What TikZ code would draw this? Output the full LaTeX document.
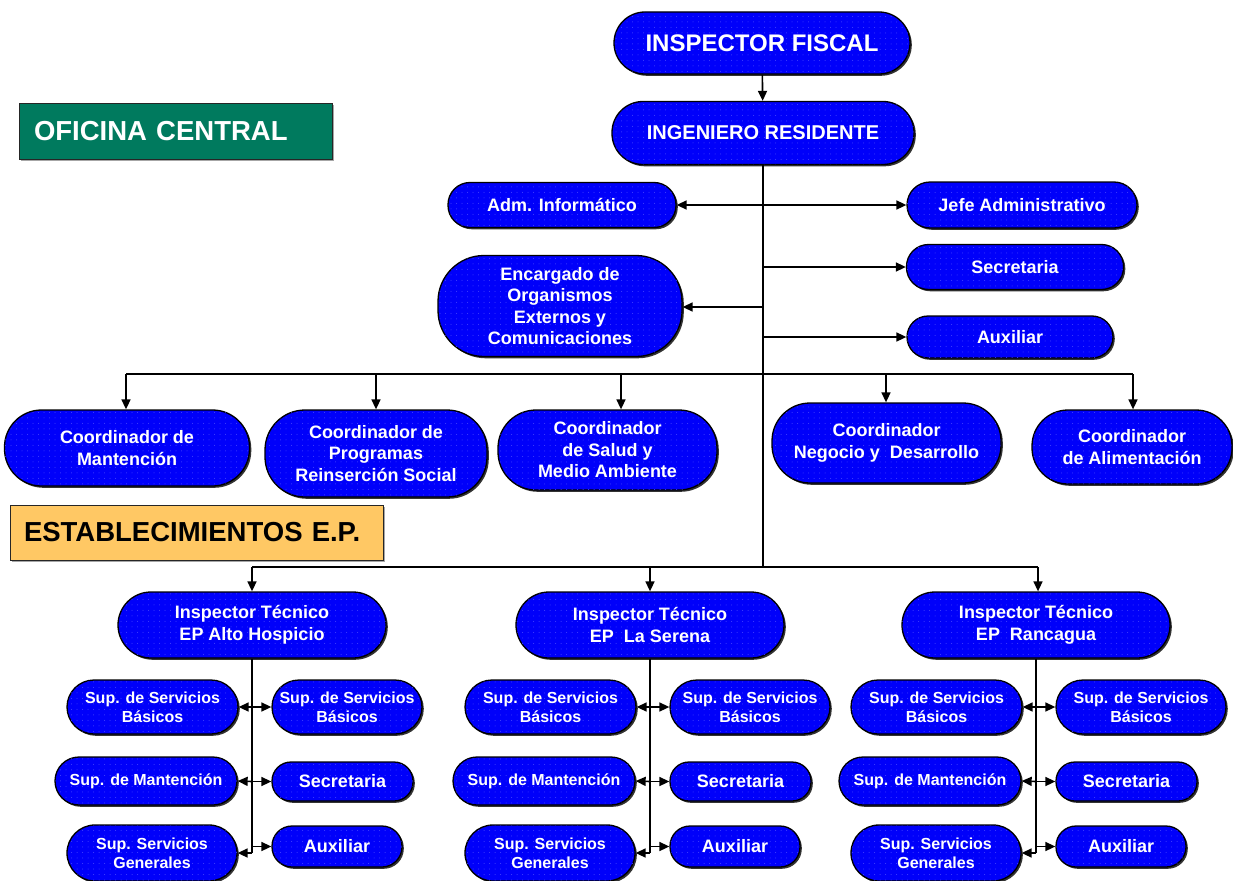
\documentclass[tikz,border=0pt]{standalone}
\usepackage{fontspec}
\setmainfont{Liberation Sans}
\usetikzlibrary{arrows.meta,shadows,patterns.meta}
\definecolor{boxblue}{RGB}{0,0,250}
\definecolor{dotblue}{RGB}{70,70,255}
\definecolor{ofigreen}{RGB}{0,122,94}
\definecolor{estorange}{RGB}{255,200,100}
\newcommand\fsz[2]{\fontsize{#1}{#2}\selectfont}
\tikzset{
  pill/.style={draw=black, line width=1.3pt, fill=boxblue,
    postaction={pattern={Dots[distance=5.5pt,radius=0.5pt]}, pattern color=dotblue},
    drop shadow={shadow xshift=1.8pt, shadow yshift=-1.8pt, fill=black!80, opacity=1},
    text=white, align=center, inner sep=0pt, rounded corners=#1},
  pill/.default=20pt,
  big/.style={font=\bfseries\fsz{18pt}{21.5pt}},
  small/.style={font=\bfseries\fsz{16pt}{19pt}},
  arr/.style={-{Triangle[length=10pt,width=9pt]}, line width=1.6pt},
  spine/.style={line width=2.2pt},
  bus/.style={line width=1.6pt},
  label/.style={draw=black!85, line width=1pt, align=left, inner ysep=0pt,
    drop shadow={shadow xshift=1.5pt, shadow yshift=-1.5pt, fill=black!35, opacity=1}}
}
\begin{document}
\begin{tikzpicture}[x=1pt,y=-1pt]
\useasboundingbox (0,0) rectangle (1233,880);

% section labels
\node[label, fill=ofigreen, text=white, minimum height=55pt, text width=283pt, inner xsep=15pt,
  font=\bfseries\fsz{27.5pt}{30pt}] (ofi) at (175.5,131.5) {OFICINA CENTRAL};
\node[label, fill=estorange, text=black, minimum height=55pt, text width=345pt, inner xsep=14pt,
  font=\bfseries\fsz{27.5pt}{30pt}] (est) at (196.5,532.5) {ESTABLECIMIENTOS E.P.};

% top
\node[pill=31pt, minimum width=296pt, minimum height=62pt, font=\bfseries\fsz{24pt}{28pt}] (if) at (762,43) {INSPECTOR FISCAL};
\node[pill=31pt, minimum width=302pt, minimum height=63pt, font=\bfseries\fsz{20pt}{24pt}] (ir) at (763,133) {INGENIERO RESIDENTE};

\node[pill=22pt, big, minimum width=228pt, minimum height=45pt] (adm) at (562,205) {Adm. Informático};
\node[pill=23pt, big, minimum width=230pt, minimum height=46pt] (jefe) at (1022,205) {Jefe Administrativo};
\node[pill=22pt, big, minimum width=217pt, minimum height=45pt] (sec) at (1015,267) {Secretaria};
\node[pill=46pt, big, minimum width=244pt, minimum height=101pt] (enc) at (560,306) {Encargado de\\Organismos\\Externos y\\Comunicaciones};
\node[pill=21pt, big, minimum width=206pt, minimum height=42pt] (aux) at (1010,337) {Auxiliar};

% coordinators
\node[pill=37pt, big, minimum width=245pt, minimum height=76pt] (c1) at (127,448) {Coordinador de\\Mantención};
\node[pill=40pt, big, minimum width=222pt, minimum height=87pt] (c2) at (376,453.5) {Coordinador de\\Programas\\Reinserción Social};
\node[pill=38pt, big, minimum width=219pt, minimum height=80pt] (c3) at (607.5,450) {Coordinador\\de Salud y\\Medio Ambiente};
\node[pill=38pt, big, minimum width=229pt, minimum height=80pt] (c4) at (886.5,443) {Coordinador\\Negocio y\ \ Desarrollo};
\node[pill=36pt, big, minimum width=200pt, minimum height=74pt] (c5) at (1132,447) {Coordinador\\de Alimentación};

% spine and top connectors
\draw[arr] (if) -- (ir);
\coordinate (sbot) at (763,567);
\draw[spine] (ir.south) -- (sbot);
\coordinate (s1) at (763,205);
\coordinate (s2) at (763,267);
\coordinate (s3) at (763,307);
\coordinate (s4) at (763,337);
\draw[arr] (s1) -- (adm.east);
\draw[arr] (s1) -- (jefe.west);
\draw[arr] (s2) -- (sec.west);
\draw[arr] (s3) -- (enc.east |- s3);
\draw[arr] (s4) -- (aux.west);

% coordinator bus
\coordinate (cb1) at (126,374);
\coordinate (cb2) at (376,374);
\coordinate (cb3) at (621,374);
\coordinate (cb4) at (886,374);
\coordinate (cb5) at (1133,374);
\draw[bus] (cb1) -- (cb5);
\foreach \i in {1,...,5} \draw[arr] (cb\i) -- (cb\i |- c\i.north);

% establishment bus
\coordinate (eb1) at (252,567);
\coordinate (eb2) at (650,567);
\coordinate (eb3) at (1038,567);
\draw[bus] (eb1) -- (eb3);

\foreach \s/\g/\w/\title in {252/1/150/{EP Alto Hospicio}, 650/2/160/{EP\ \ La Serena}, 1036/3/170/{EP\ \ Rancagua}}{
  \node[pill=33pt, big, minimum width=268pt, minimum height=66pt] (it\g) at (\s,625) {Inspector Técnico\\\title};
  \draw[arr] (eb\g) -- (eb\g |- it\g.north);
  \node[pill=27pt, small, minimum width=171pt, minimum height=54pt] (ssbl\g) at ({\s-99.5},707) {Sup. de Servicios\\Básicos};
  \node[pill=27pt, small, minimum width=\w pt, minimum height=54pt] (ssbr\g) at ({\s+20+\w/2},707) {Sup. de Servicios\\Básicos};
  \node[pill=24pt, small, minimum width=182pt, minimum height=48pt] (mant\g) at ({\s-106},781) {Sup. de Mantención};
  \node[pill=19pt, big, minimum width=141pt, minimum height=39pt] (secr\g) at ({\s+90.5},781.5) {Secretaria};
  \node[pill=28pt, small, minimum width=170pt, minimum height=56pt] (ssg\g) at ({\s-100},853) {Sup. Servicios\\Generales};
  \node[pill=20pt, big, minimum width=130pt, minimum height=41pt] (auxb\g) at ({\s+85},846.5) {Auxiliar};
  \coordinate (g\g a) at (\s,707);
  \coordinate (g\g b) at (\s,781.5);
  \coordinate (g\g c) at (\s,853);
  \coordinate (g\g d) at (\s,846.5);
  \draw[spine] (it\g.south) -- (g\g c);
  \draw[arr] (g\g a) -- (ssbl\g.east);
  \draw[arr] (g\g a) -- (ssbr\g.west);
  \draw[arr] (g\g b) -- (mant\g.east);
  \draw[arr] (g\g b) -- (secr\g.west);
  \draw[arr] (g\g c) -- (ssg\g.east);
  \draw[arr] (g\g d) -- (auxb\g.west);
}
\end{tikzpicture}
\end{document}
